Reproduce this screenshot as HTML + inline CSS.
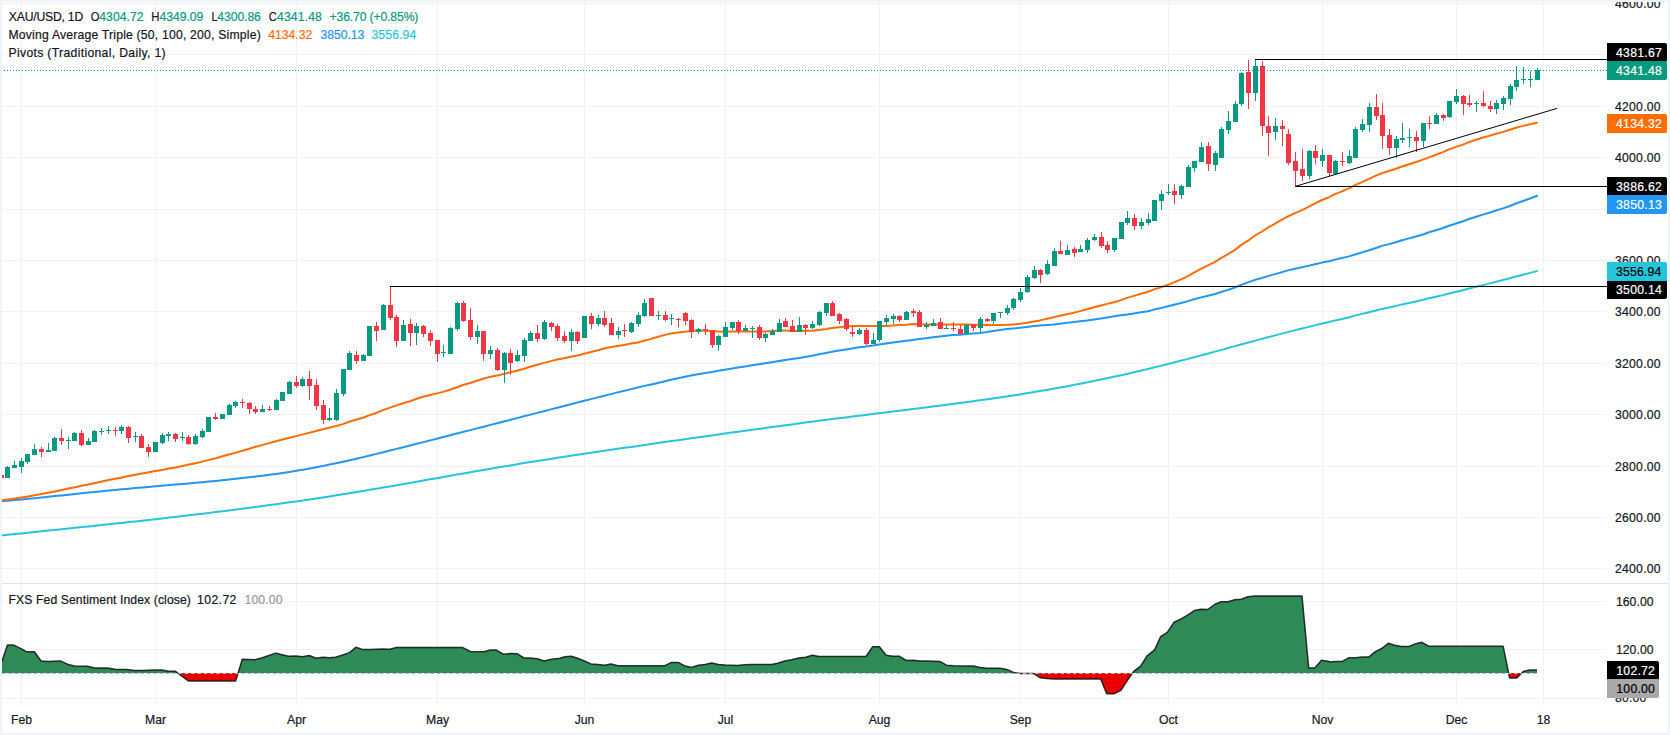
<!DOCTYPE html>
<html lang="en"><head><meta charset="utf-8"><title>XAU/USD 1D chart</title>
<style>html,body{margin:0;padding:0;background:#fff;}body{width:1670px;height:735px;overflow:hidden;}svg{display:block;font-family:"Liberation Sans",Arial,sans-serif;}.t{font-size:12.2px;fill:#131722;stroke:#131722;stroke-width:0.2px;}.w{fill:#fff;}</style></head><body>
<svg width="1670" height="735" viewBox="0 0 1670 735">
<rect x="0" y="0" width="1670" height="735" fill="#fff"/>
<g fill="#F2F2F3" shape-rendering="crispEdges">
<rect x="21" y="2" width="1" height="703"/>
<rect x="155" y="2" width="1" height="703"/>
<rect x="296" y="2" width="1" height="703"/>
<rect x="437" y="2" width="1" height="703"/>
<rect x="584" y="2" width="1" height="703"/>
<rect x="725" y="2" width="1" height="703"/>
<rect x="879" y="2" width="1" height="703"/>
<rect x="1020" y="2" width="1" height="703"/>
<rect x="1168" y="2" width="1" height="703"/>
<rect x="1322" y="2" width="1" height="703"/>
<rect x="1456" y="2" width="1" height="703"/>
<rect x="1543" y="2" width="1" height="703"/>
<rect x="2" y="568" width="1605" height="1"/>
<rect x="2" y="517" width="1605" height="1"/>
<rect x="2" y="466" width="1605" height="1"/>
<rect x="2" y="414" width="1605" height="1"/>
<rect x="2" y="363" width="1605" height="1"/>
<rect x="2" y="311" width="1605" height="1"/>
<rect x="2" y="260" width="1605" height="1"/>
<rect x="2" y="209" width="1605" height="1"/>
<rect x="2" y="157" width="1605" height="1"/>
<rect x="2" y="106" width="1605" height="1"/>
<rect x="2" y="54" width="1605" height="1"/>
<rect x="2" y="3" width="1605" height="1"/>
<rect x="2" y="601" width="1605" height="1"/>
<rect x="2" y="649" width="1605" height="1"/>
<rect x="2" y="698" width="1605" height="1"/>
</g>
<rect x="0" y="583" width="1670" height="1" fill="#E0E3EB" shape-rendering="crispEdges"/>
<line x1="1" y1="70.5" x2="1607" y2="70.5" stroke="#089981" stroke-width="1" stroke-dasharray="1 2" shape-rendering="crispEdges"/>
<polyline points="1.3,535.5 8.0,534.8 14.7,534.1 21.4,533.4 28.1,532.7 34.8,532.0 41.5,531.3 48.2,530.6 54.9,529.9 61.6,529.2 68.3,528.5 75.0,527.8 81.7,527.1 88.4,526.4 95.1,525.7 101.8,525.0 108.5,524.3 115.2,523.6 121.9,522.9 128.6,522.1 135.3,521.4 142.0,520.7 148.7,519.9 155.4,519.2 162.1,518.4 168.8,517.6 175.5,516.9 182.2,516.1 188.9,515.3 195.6,514.5 202.3,513.7 209.0,512.9 215.7,512.1 222.4,511.2 229.1,510.4 235.8,509.6 242.5,508.7 249.2,507.8 255.9,506.9 262.6,506.0 269.3,505.1 276.0,504.2 282.7,503.3 289.4,502.3 296.1,501.4 302.8,500.4 309.5,499.4 316.2,498.4 322.9,497.4 329.6,496.4 336.3,495.3 343.0,494.2 349.7,493.2 356.4,492.1 363.1,491.0 369.8,489.8 376.5,488.7 383.2,487.6 389.9,486.4 396.6,485.2 403.3,484.1 410.0,482.9 416.7,481.7 423.4,480.5 430.1,479.3 436.8,478.2 443.5,477.0 450.2,475.8 456.9,474.6 463.6,473.4 470.3,472.2 477.0,471.1 483.7,469.9 490.4,468.8 497.1,467.6 503.8,466.5 510.5,465.4 517.2,464.2 523.9,463.1 530.6,462.1 537.3,461.0 544.0,459.9 550.7,458.9 557.4,457.8 564.1,456.8 570.8,455.8 577.5,454.8 584.2,453.7 590.9,452.7 597.6,451.7 604.3,450.8 611.0,449.8 617.7,448.8 624.4,447.8 631.1,446.9 637.8,445.9 644.5,444.9 651.2,444.0 657.9,443.0 664.6,442.1 671.3,441.1 678.0,440.2 684.7,439.2 691.4,438.3 698.1,437.3 704.8,436.4 711.5,435.4 718.2,434.5 724.9,433.5 731.6,432.6 738.3,431.7 745.0,430.8 751.7,429.8 758.4,428.9 765.1,428.0 771.8,427.1 778.5,426.2 785.2,425.3 791.9,424.4 798.6,423.5 805.3,422.6 812.0,421.7 818.7,420.8 825.4,419.9 832.1,419.1 838.8,418.2 845.5,417.4 852.2,416.5 858.9,415.7 865.6,414.9 872.3,414.0 879.0,413.2 885.7,412.4 892.4,411.6 899.1,410.7 905.8,409.9 912.5,409.1 919.2,408.2 925.9,407.4 932.6,406.6 939.3,405.7 946.0,404.8 952.7,404.0 959.4,403.1 966.1,402.2 972.8,401.3 979.5,400.3 986.2,399.4 992.9,398.4 999.6,397.5 1006.3,396.5 1013.0,395.4 1019.7,394.4 1026.4,393.3 1033.1,392.2 1039.8,391.1 1046.5,390.0 1053.2,388.8 1059.9,387.6 1066.6,386.4 1073.3,385.1 1080.0,383.8 1086.7,382.5 1093.4,381.1 1100.1,379.7 1106.8,378.3 1113.5,376.8 1120.2,375.4 1126.9,373.9 1133.6,372.3 1140.3,370.7 1147.0,369.2 1153.7,367.5 1160.4,365.9 1167.1,364.2 1173.8,362.5 1180.5,360.8 1187.2,359.1 1193.9,357.3 1200.6,355.5 1207.3,353.7 1214.0,351.9 1220.7,350.1 1227.4,348.2 1234.1,346.4 1240.8,344.5 1247.5,342.7 1254.2,340.9 1260.9,339.1 1267.6,337.3 1274.3,335.6 1281.0,333.9 1287.7,332.1 1294.4,330.4 1301.1,328.8 1307.8,327.1 1314.5,325.4 1321.2,323.8 1327.9,322.2 1335.0,320.4 1342.0,318.9 1349.0,317.3 1355.0,315.6 1362.0,313.9 1369.0,312.2 1376.0,310.5 1382.0,308.9 1389.0,307.4 1396.0,305.9 1402.0,304.4 1409.0,302.9 1416.0,301.4 1423.0,299.8 1429.0,298.3 1436.0,296.7 1443.0,295.1 1449.0,293.5 1456.0,291.8 1463.0,290.2 1469.0,288.5 1476.0,286.8 1483.0,285.1 1490.0,283.4 1496.0,281.7 1503.0,280.0 1510.0,278.3 1516.0,276.5 1523.0,274.7 1530.0,272.9 1537.0,271.1" fill="none" stroke="#26C6DA" stroke-width="2" stroke-linejoin="round" stroke-linecap="round"/>
<polyline points="1.3,501.2 8.0,500.7 14.7,500.1 21.4,499.5 28.1,498.8 34.8,498.2 41.5,497.5 48.2,496.8 54.9,496.1 61.6,495.4 68.3,494.7 75.0,494.0 81.7,493.3 88.4,492.6 95.1,491.9 101.8,491.2 108.5,490.6 115.2,489.9 121.9,489.3 128.6,488.7 135.3,488.1 142.0,487.5 148.7,486.9 155.4,486.3 162.1,485.7 168.8,485.1 175.5,484.6 182.2,484.0 188.9,483.4 195.6,482.8 202.3,482.2 209.0,481.5 215.7,480.9 222.4,480.2 229.1,479.6 235.8,478.8 242.5,478.1 249.2,477.3 255.9,476.5 262.6,475.7 269.3,474.8 276.0,473.9 282.7,472.9 289.4,471.9 296.1,470.8 302.8,469.7 309.5,468.5 316.2,467.3 322.9,466.0 329.6,464.6 336.3,463.2 343.0,461.7 349.7,460.2 356.4,458.7 363.1,457.1 369.8,455.5 376.5,453.9 383.2,452.2 389.9,450.5 396.6,448.9 403.3,447.2 410.0,445.5 416.7,443.8 423.4,442.1 430.1,440.4 436.8,438.7 443.5,437.0 450.2,435.2 456.9,433.5 463.6,431.8 470.3,430.1 477.0,428.4 483.7,426.7 490.4,424.9 497.1,423.2 503.8,421.5 510.5,419.8 517.2,418.1 523.9,416.3 530.6,414.6 537.3,412.9 544.0,411.2 550.7,409.4 557.4,407.7 564.1,406.0 570.8,404.3 577.5,402.5 584.2,400.8 590.9,399.1 597.6,397.4 604.3,395.7 611.0,394.1 617.7,392.4 624.4,390.7 631.1,389.1 637.8,387.5 644.5,385.9 651.2,384.4 657.9,382.9 665.0,381.3 671.0,379.7 678.0,378.2 685.0,376.8 691.0,375.5 698.0,374.2 705.0,373.0 712.0,371.9 718.0,370.8 725.0,369.7 732.0,368.5 738.0,367.4 745.0,366.4 752.0,365.2 759.0,364.2 765.0,363.2 772.0,362.2 779.0,361.1 785.0,360.1 792.0,359.1 799.0,358.0 805.0,356.9 812.0,355.7 819.0,354.3 826.0,352.9 832.0,351.7 839.0,350.6 846.0,349.5 852.0,348.4 859.0,347.3 866.0,346.4 873.0,345.5 879.0,344.5 886.0,343.5 893.0,342.5 899.0,341.7 906.0,340.8 913.0,339.9 919.0,339.0 926.0,338.2 933.0,337.3 940.0,336.5 946.0,335.8 953.0,335.1 960.0,334.7 966.0,334.1 973.0,333.5 980.0,332.9 987.0,332.0 993.0,331.0 1000.0,329.9 1007.0,329.1 1013.0,328.4 1020.0,327.8 1027.0,326.9 1034.0,326.1 1040.0,325.6 1047.0,324.9 1054.0,324.4 1060.0,323.7 1067.0,322.8 1074.0,322.1 1080.0,321.2 1087.0,320.4 1094.0,319.4 1101.0,318.5 1107.0,317.4 1114.0,316.3 1121.0,315.2 1127.0,314.4 1134.0,313.4 1141.0,312.3 1148.0,311.2 1154.0,309.6 1161.0,308.1 1168.0,306.3 1174.0,304.7 1181.0,303.0 1188.0,301.1 1194.0,299.3 1201.0,297.4 1208.0,295.7 1215.0,294.0 1221.0,292.0 1228.0,289.9 1235.0,287.5 1241.0,284.9 1248.0,282.4 1255.0,279.9 1262.0,278.0 1268.0,276.1 1275.0,274.1 1282.0,272.1 1288.0,270.4 1295.0,268.8 1302.0,267.3 1309.0,265.6 1315.0,264.2 1322.0,262.6 1329.0,261.2 1335.0,259.6 1342.0,258.0 1349.0,256.4 1355.0,254.5 1362.0,252.4 1369.0,250.2 1376.0,248.0 1382.0,245.9 1389.0,244.1 1396.0,242.2 1402.0,240.3 1409.0,238.4 1416.0,236.5 1423.0,234.5 1429.0,232.3 1436.0,230.2 1443.0,228.0 1449.0,225.8 1456.0,223.5 1463.0,221.2 1469.0,219.0 1476.0,216.8 1483.0,214.6 1490.0,212.5 1496.0,210.5 1503.0,208.4 1510.0,206.0 1516.0,203.5 1523.0,201.0 1530.0,198.5 1537.0,195.8" fill="none" stroke="#2196F3" stroke-width="2" stroke-linejoin="round" stroke-linecap="round"/>
<polyline points="1.3,500.4 8.0,499.5 14.7,498.5 21.4,497.5 28.1,496.4 34.8,495.2 41.5,494.0 48.2,492.7 54.9,491.4 61.6,490.0 68.3,488.6 75.0,487.2 81.7,485.8 88.4,484.4 95.1,482.9 101.8,481.5 108.5,480.1 115.2,478.7 121.9,477.4 128.6,476.0 135.3,474.8 142.0,473.5 148.7,472.3 155.4,471.1 162.1,469.9 168.8,468.6 175.5,467.4 182.2,466.0 188.9,464.6 195.6,463.2 202.3,461.6 209.0,459.9 215.7,458.2 222.4,456.3 229.1,454.5 235.8,452.6 242.5,450.7 249.2,448.8 255.9,446.8 262.6,444.9 269.3,443.1 276.0,441.3 282.7,439.5 289.4,437.8 296.1,436.1 302.8,434.4 309.5,432.7 316.2,431.0 322.9,429.3 329.0,427.7 336.0,426.0 343.0,424.1 349.0,421.8 356.0,419.8 363.0,417.8 369.0,415.4 376.0,413.0 383.0,410.1 390.0,407.6 396.0,405.6 403.0,403.3 410.0,401.3 416.0,399.0 423.0,396.8 430.0,395.0 437.0,393.4 443.0,391.9 450.0,389.8 457.0,387.3 463.0,385.0 470.0,383.0 477.0,380.7 483.0,378.7 490.0,376.9 497.0,375.6 504.0,373.9 510.0,372.4 517.0,370.8 524.0,368.7 530.0,366.7 537.0,364.8 544.0,362.9 551.0,361.1 557.0,359.5 564.0,358.2 571.0,356.8 577.0,355.6 584.0,353.7 591.0,352.0 598.0,350.2 604.0,348.5 611.0,347.1 618.0,345.9 624.0,344.9 631.0,343.6 638.0,342.4 644.0,340.7 651.0,338.9 658.0,336.8 665.0,334.9 671.0,333.4 678.0,332.4 685.0,331.7 691.0,331.1 698.0,330.6 705.0,330.7 712.0,330.9 718.0,331.6 725.0,331.8 732.0,331.4 738.0,331.5 745.0,331.4 752.0,331.5 759.0,331.5 765.0,331.4 772.0,331.0 779.0,330.4 785.0,330.4 792.0,330.9 799.0,331.0 805.0,330.8 812.0,330.7 819.0,329.9 826.0,328.9 832.0,327.9 839.0,327.2 846.0,326.5 852.0,326.1 859.0,325.9 866.0,326.1 873.0,326.1 879.0,326.1 886.0,325.9 893.0,325.5 899.0,325.1 906.0,324.7 913.0,324.1 919.0,324.3 926.0,324.4 933.0,324.5 940.0,324.6 946.0,324.4 953.0,324.4 960.0,324.4 966.0,324.5 973.0,324.7 980.0,325.0 987.0,325.1 993.0,325.1 1000.0,325.0 1007.0,324.8 1013.0,324.4 1020.0,323.8 1027.0,322.7 1034.0,321.5 1040.0,320.4 1047.0,318.8 1054.0,317.1 1060.0,315.7 1067.0,314.2 1074.0,312.7 1080.0,311.1 1087.0,309.3 1094.0,307.3 1101.0,305.5 1107.0,303.9 1114.0,302.2 1121.0,300.1 1127.0,297.9 1134.0,295.9 1141.0,293.8 1148.0,291.7 1154.0,289.4 1161.0,287.2 1168.0,284.8 1174.0,282.3 1181.0,279.4 1188.0,276.1 1194.0,272.7 1201.0,268.8 1208.0,265.3 1215.0,261.9 1221.0,258.1 1228.0,254.2 1235.0,249.9 1241.0,245.1 1248.0,240.7 1255.0,235.5 1262.0,231.5 1268.0,227.7 1275.0,223.7 1282.0,219.7 1288.0,216.4 1295.0,213.1 1302.0,210.1 1309.0,206.6 1315.0,203.3 1322.0,200.0 1329.0,197.2 1335.0,194.2 1342.0,191.3 1349.0,188.4 1355.0,185.1 1362.0,182.1 1369.0,178.8 1376.0,175.6 1382.0,173.1 1389.0,171.0 1396.0,168.7 1402.0,166.5 1409.0,164.2 1416.0,162.0 1423.0,159.6 1429.0,157.4 1436.0,154.8 1443.0,152.1 1449.0,149.4 1456.0,146.9 1463.0,144.6 1469.0,142.1 1476.0,139.8 1483.0,137.5 1490.0,135.6 1496.0,133.8 1503.0,131.9 1510.0,129.8 1516.0,127.7 1523.0,125.9 1530.0,124.3 1537.0,122.7" fill="none" stroke="#FF6D00" stroke-width="2" stroke-linejoin="round" stroke-linecap="round"/>
<g shape-rendering="crispEdges">
<g fill="#089981">
<rect x="7" y="466" width="1" height="12"/>
<rect x="5" y="467" width="5" height="11"/>
<rect x="14" y="461" width="1" height="7"/>
<rect x="12" y="465" width="5" height="3"/>
<rect x="21" y="458" width="1" height="15"/>
<rect x="19" y="461" width="5" height="6"/>
<rect x="27" y="454" width="1" height="10"/>
<rect x="25" y="454" width="5" height="8"/>
<rect x="34" y="444" width="1" height="11"/>
<rect x="32" y="449" width="5" height="6"/>
<rect x="48" y="443" width="1" height="9"/>
<rect x="46" y="450" width="5" height="2"/>
<rect x="54" y="437" width="1" height="14"/>
<rect x="52" y="438" width="5" height="13"/>
<rect x="68" y="437" width="1" height="12"/>
<rect x="66" y="440" width="5" height="1"/>
<rect x="74" y="432" width="1" height="9"/>
<rect x="72" y="433" width="5" height="8"/>
<rect x="88" y="438" width="1" height="7"/>
<rect x="86" y="441" width="5" height="4"/>
<rect x="94" y="430" width="1" height="12"/>
<rect x="92" y="431" width="5" height="11"/>
<rect x="101" y="428" width="1" height="7"/>
<rect x="99" y="431" width="5" height="1"/>
<rect x="108" y="426" width="1" height="8"/>
<rect x="106" y="430" width="5" height="1"/>
<rect x="121" y="425" width="1" height="9"/>
<rect x="119" y="427" width="5" height="4"/>
<rect x="135" y="432" width="1" height="10"/>
<rect x="133" y="436" width="5" height="1"/>
<rect x="153" y="442" width="5" height="10"/>
<rect x="162" y="433" width="1" height="11"/>
<rect x="160" y="435" width="5" height="8"/>
<rect x="168" y="432" width="1" height="9"/>
<rect x="166" y="434" width="5" height="2"/>
<rect x="182" y="432" width="1" height="9"/>
<rect x="180" y="437" width="5" height="1"/>
<rect x="195" y="434" width="1" height="11"/>
<rect x="193" y="436" width="5" height="8"/>
<rect x="202" y="429" width="1" height="9"/>
<rect x="200" y="431" width="5" height="6"/>
<rect x="206" y="417" width="5" height="15"/>
<rect x="220" y="414" width="5" height="5"/>
<rect x="229" y="404" width="1" height="11"/>
<rect x="227" y="405" width="5" height="10"/>
<rect x="235" y="401" width="1" height="7"/>
<rect x="233" y="402" width="5" height="4"/>
<rect x="262" y="405" width="1" height="7"/>
<rect x="260" y="409" width="5" height="3"/>
<rect x="276" y="399" width="1" height="11"/>
<rect x="274" y="400" width="5" height="10"/>
<rect x="280" y="392" width="5" height="9"/>
<rect x="289" y="381" width="1" height="13"/>
<rect x="287" y="382" width="5" height="12"/>
<rect x="302" y="377" width="1" height="10"/>
<rect x="300" y="379" width="5" height="7"/>
<rect x="329" y="408" width="1" height="13"/>
<rect x="327" y="418" width="5" height="2"/>
<rect x="336" y="389" width="1" height="32"/>
<rect x="334" y="393" width="5" height="27"/>
<rect x="343" y="369" width="1" height="27"/>
<rect x="341" y="369" width="5" height="25"/>
<rect x="349" y="351" width="1" height="19"/>
<rect x="347" y="353" width="5" height="17"/>
<rect x="363" y="354" width="1" height="7"/>
<rect x="361" y="355" width="5" height="6"/>
<rect x="367" y="326" width="5" height="30"/>
<rect x="383" y="304" width="1" height="26"/>
<rect x="381" y="305" width="5" height="25"/>
<rect x="403" y="320" width="1" height="21"/>
<rect x="401" y="325" width="5" height="16"/>
<rect x="416" y="323" width="1" height="22"/>
<rect x="414" y="326" width="5" height="7"/>
<rect x="443" y="345" width="1" height="12"/>
<rect x="441" y="352" width="5" height="1"/>
<rect x="450" y="327" width="1" height="27"/>
<rect x="448" y="328" width="5" height="26"/>
<rect x="457" y="302" width="1" height="29"/>
<rect x="455" y="303" width="5" height="26"/>
<rect x="477" y="325" width="1" height="19"/>
<rect x="475" y="331" width="5" height="6"/>
<rect x="490" y="346" width="1" height="13"/>
<rect x="488" y="350" width="5" height="4"/>
<rect x="504" y="352" width="1" height="31"/>
<rect x="502" y="353" width="5" height="17"/>
<rect x="517" y="350" width="1" height="12"/>
<rect x="515" y="355" width="5" height="6"/>
<rect x="524" y="338" width="1" height="24"/>
<rect x="522" y="340" width="5" height="16"/>
<rect x="530" y="331" width="1" height="10"/>
<rect x="528" y="333" width="5" height="8"/>
<rect x="544" y="320" width="1" height="20"/>
<rect x="542" y="322" width="5" height="17"/>
<rect x="571" y="329" width="1" height="22"/>
<rect x="569" y="332" width="5" height="9"/>
<rect x="582" y="316" width="5" height="22"/>
<rect x="598" y="315" width="1" height="11"/>
<rect x="596" y="318" width="5" height="6"/>
<rect x="618" y="327" width="1" height="12"/>
<rect x="616" y="331" width="5" height="4"/>
<rect x="631" y="322" width="1" height="11"/>
<rect x="629" y="323" width="5" height="9"/>
<rect x="638" y="312" width="1" height="15"/>
<rect x="636" y="315" width="5" height="9"/>
<rect x="644" y="299" width="1" height="18"/>
<rect x="642" y="303" width="5" height="13"/>
<rect x="658" y="311" width="1" height="9"/>
<rect x="656" y="315" width="5" height="1"/>
<rect x="671" y="314" width="1" height="11"/>
<rect x="669" y="318" width="5" height="1"/>
<rect x="698" y="328" width="1" height="6"/>
<rect x="696" y="329" width="5" height="3"/>
<rect x="718" y="335" width="1" height="16"/>
<rect x="716" y="336" width="5" height="9"/>
<rect x="725" y="322" width="1" height="15"/>
<rect x="723" y="327" width="5" height="10"/>
<rect x="732" y="322" width="1" height="8"/>
<rect x="730" y="322" width="5" height="6"/>
<rect x="745" y="325" width="1" height="6"/>
<rect x="743" y="328" width="5" height="3"/>
<rect x="752" y="326" width="1" height="12"/>
<rect x="750" y="328" width="5" height="1"/>
<rect x="765" y="333" width="1" height="9"/>
<rect x="763" y="334" width="5" height="4"/>
<rect x="772" y="329" width="1" height="6"/>
<rect x="770" y="331" width="5" height="4"/>
<rect x="779" y="319" width="1" height="13"/>
<rect x="777" y="323" width="5" height="9"/>
<rect x="799" y="317" width="1" height="15"/>
<rect x="797" y="325" width="5" height="7"/>
<rect x="812" y="321" width="1" height="8"/>
<rect x="810" y="324" width="5" height="4"/>
<rect x="819" y="311" width="1" height="15"/>
<rect x="817" y="312" width="5" height="13"/>
<rect x="826" y="303" width="1" height="13"/>
<rect x="824" y="303" width="5" height="10"/>
<rect x="859" y="328" width="1" height="7"/>
<rect x="857" y="330" width="5" height="4"/>
<rect x="873" y="333" width="1" height="11"/>
<rect x="871" y="340" width="5" height="4"/>
<rect x="879" y="321" width="1" height="21"/>
<rect x="877" y="321" width="5" height="19"/>
<rect x="886" y="315" width="1" height="10"/>
<rect x="884" y="318" width="5" height="4"/>
<rect x="893" y="314" width="1" height="10"/>
<rect x="891" y="316" width="5" height="3"/>
<rect x="906" y="311" width="1" height="9"/>
<rect x="904" y="312" width="5" height="8"/>
<rect x="926" y="322" width="1" height="7"/>
<rect x="924" y="325" width="5" height="2"/>
<rect x="933" y="319" width="1" height="7"/>
<rect x="931" y="323" width="5" height="3"/>
<rect x="946" y="325" width="1" height="4"/>
<rect x="944" y="328" width="5" height="1"/>
<rect x="966" y="324" width="1" height="10"/>
<rect x="964" y="325" width="5" height="9"/>
<rect x="980" y="317" width="1" height="15"/>
<rect x="978" y="319" width="5" height="9"/>
<rect x="993" y="313" width="1" height="11"/>
<rect x="991" y="313" width="5" height="8"/>
<rect x="1000" y="312" width="1" height="6"/>
<rect x="998" y="312" width="5" height="1"/>
<rect x="1007" y="305" width="1" height="10"/>
<rect x="1005" y="308" width="5" height="5"/>
<rect x="1013" y="298" width="1" height="12"/>
<rect x="1011" y="299" width="5" height="9"/>
<rect x="1020" y="288" width="1" height="14"/>
<rect x="1018" y="292" width="5" height="8"/>
<rect x="1027" y="275" width="1" height="18"/>
<rect x="1025" y="277" width="5" height="15"/>
<rect x="1034" y="266" width="1" height="13"/>
<rect x="1032" y="270" width="5" height="8"/>
<rect x="1047" y="260" width="1" height="15"/>
<rect x="1045" y="264" width="5" height="10"/>
<rect x="1054" y="248" width="1" height="18"/>
<rect x="1052" y="251" width="5" height="15"/>
<rect x="1067" y="245" width="1" height="10"/>
<rect x="1065" y="250" width="5" height="5"/>
<rect x="1080" y="245" width="1" height="7"/>
<rect x="1078" y="249" width="5" height="3"/>
<rect x="1087" y="238" width="1" height="15"/>
<rect x="1085" y="240" width="5" height="10"/>
<rect x="1094" y="234" width="1" height="7"/>
<rect x="1092" y="237" width="5" height="3"/>
<rect x="1114" y="238" width="1" height="14"/>
<rect x="1112" y="238" width="5" height="12"/>
<rect x="1119" y="222" width="5" height="17"/>
<rect x="1127" y="211" width="1" height="14"/>
<rect x="1125" y="218" width="5" height="5"/>
<rect x="1141" y="218" width="1" height="11"/>
<rect x="1139" y="222" width="5" height="4"/>
<rect x="1148" y="213" width="1" height="12"/>
<rect x="1146" y="219" width="5" height="4"/>
<rect x="1152" y="200" width="5" height="21"/>
<rect x="1161" y="190" width="1" height="20"/>
<rect x="1159" y="194" width="5" height="7"/>
<rect x="1168" y="184" width="1" height="11"/>
<rect x="1166" y="192" width="5" height="1"/>
<rect x="1181" y="185" width="1" height="14"/>
<rect x="1179" y="186" width="5" height="9"/>
<rect x="1188" y="165" width="1" height="22"/>
<rect x="1186" y="167" width="5" height="20"/>
<rect x="1194" y="161" width="1" height="11"/>
<rect x="1192" y="161" width="5" height="7"/>
<rect x="1201" y="142" width="1" height="20"/>
<rect x="1199" y="147" width="5" height="15"/>
<rect x="1215" y="151" width="1" height="20"/>
<rect x="1213" y="153" width="5" height="12"/>
<rect x="1221" y="127" width="1" height="31"/>
<rect x="1219" y="129" width="5" height="29"/>
<rect x="1228" y="111" width="1" height="23"/>
<rect x="1226" y="121" width="5" height="9"/>
<rect x="1235" y="101" width="1" height="21"/>
<rect x="1233" y="104" width="5" height="18"/>
<rect x="1241" y="72" width="1" height="34"/>
<rect x="1239" y="73" width="5" height="31"/>
<rect x="1255" y="60" width="1" height="41"/>
<rect x="1253" y="66" width="5" height="27"/>
<rect x="1275" y="118" width="1" height="22"/>
<rect x="1273" y="126" width="5" height="6"/>
<rect x="1309" y="150" width="1" height="29"/>
<rect x="1307" y="151" width="5" height="25"/>
<rect x="1322" y="149" width="1" height="18"/>
<rect x="1320" y="155" width="5" height="6"/>
<rect x="1335" y="160" width="1" height="14"/>
<rect x="1333" y="161" width="5" height="13"/>
<rect x="1349" y="150" width="1" height="14"/>
<rect x="1347" y="156" width="5" height="7"/>
<rect x="1355" y="127" width="1" height="31"/>
<rect x="1353" y="129" width="5" height="29"/>
<rect x="1362" y="119" width="1" height="13"/>
<rect x="1360" y="124" width="5" height="6"/>
<rect x="1369" y="103" width="1" height="29"/>
<rect x="1367" y="107" width="5" height="18"/>
<rect x="1396" y="136" width="1" height="22"/>
<rect x="1394" y="139" width="5" height="9"/>
<rect x="1402" y="123" width="1" height="20"/>
<rect x="1400" y="138" width="5" height="2"/>
<rect x="1409" y="129" width="1" height="18"/>
<rect x="1407" y="137" width="5" height="1"/>
<rect x="1423" y="123" width="1" height="24"/>
<rect x="1421" y="123" width="5" height="18"/>
<rect x="1436" y="113" width="1" height="11"/>
<rect x="1434" y="115" width="5" height="9"/>
<rect x="1449" y="101" width="1" height="17"/>
<rect x="1447" y="101" width="5" height="16"/>
<rect x="1456" y="89" width="1" height="15"/>
<rect x="1454" y="96" width="5" height="6"/>
<rect x="1476" y="101" width="1" height="11"/>
<rect x="1474" y="103" width="5" height="1"/>
<rect x="1496" y="100" width="1" height="14"/>
<rect x="1494" y="103" width="5" height="6"/>
<rect x="1503" y="96" width="1" height="14"/>
<rect x="1501" y="98" width="5" height="6"/>
<rect x="1510" y="84" width="1" height="21"/>
<rect x="1508" y="86" width="5" height="13"/>
<rect x="1516" y="66" width="1" height="25"/>
<rect x="1514" y="80" width="5" height="7"/>
<rect x="1523" y="67" width="1" height="17"/>
<rect x="1521" y="79" width="5" height="1"/>
<rect x="1530" y="71" width="1" height="16"/>
<rect x="1528" y="79" width="5" height="1"/>
<rect x="1537" y="68" width="1" height="12"/>
<rect x="1535" y="70" width="5" height="10"/>
</g>
<g fill="#F23645">
<rect x="1" y="474" width="1" height="7"/>
<rect x="-1" y="475" width="5" height="3"/>
<rect x="41" y="447" width="1" height="10"/>
<rect x="39" y="449" width="5" height="3"/>
<rect x="61" y="429" width="1" height="16"/>
<rect x="59" y="438" width="5" height="3"/>
<rect x="81" y="430" width="1" height="16"/>
<rect x="79" y="433" width="5" height="12"/>
<rect x="115" y="427" width="1" height="9"/>
<rect x="113" y="430" width="5" height="1"/>
<rect x="128" y="426" width="1" height="17"/>
<rect x="126" y="427" width="5" height="11"/>
<rect x="141" y="434" width="1" height="14"/>
<rect x="139" y="436" width="5" height="12"/>
<rect x="148" y="444" width="1" height="13"/>
<rect x="146" y="447" width="5" height="5"/>
<rect x="175" y="433" width="1" height="9"/>
<rect x="173" y="434" width="5" height="5"/>
<rect x="188" y="435" width="1" height="10"/>
<rect x="186" y="437" width="5" height="7"/>
<rect x="215" y="413" width="1" height="7"/>
<rect x="213" y="417" width="5" height="2"/>
<rect x="242" y="399" width="1" height="9"/>
<rect x="240" y="402" width="5" height="1"/>
<rect x="249" y="402" width="1" height="12"/>
<rect x="247" y="403" width="5" height="6"/>
<rect x="255" y="406" width="1" height="8"/>
<rect x="253" y="409" width="5" height="3"/>
<rect x="269" y="406" width="1" height="5"/>
<rect x="267" y="409" width="5" height="1"/>
<rect x="296" y="376" width="1" height="12"/>
<rect x="294" y="382" width="5" height="4"/>
<rect x="309" y="371" width="1" height="29"/>
<rect x="307" y="379" width="5" height="7"/>
<rect x="316" y="379" width="1" height="31"/>
<rect x="314" y="385" width="5" height="21"/>
<rect x="323" y="400" width="1" height="24"/>
<rect x="321" y="405" width="5" height="15"/>
<rect x="356" y="351" width="1" height="13"/>
<rect x="354" y="355" width="5" height="6"/>
<rect x="376" y="322" width="1" height="19"/>
<rect x="374" y="326" width="5" height="5"/>
<rect x="390" y="287" width="1" height="33"/>
<rect x="388" y="305" width="5" height="13"/>
<rect x="396" y="315" width="1" height="32"/>
<rect x="394" y="317" width="5" height="24"/>
<rect x="410" y="319" width="1" height="27"/>
<rect x="408" y="324" width="5" height="9"/>
<rect x="423" y="325" width="1" height="12"/>
<rect x="421" y="326" width="5" height="8"/>
<rect x="430" y="330" width="1" height="16"/>
<rect x="428" y="333" width="5" height="8"/>
<rect x="437" y="340" width="1" height="22"/>
<rect x="435" y="340" width="5" height="14"/>
<rect x="463" y="301" width="1" height="21"/>
<rect x="461" y="303" width="5" height="18"/>
<rect x="470" y="308" width="1" height="32"/>
<rect x="468" y="320" width="5" height="17"/>
<rect x="483" y="331" width="1" height="30"/>
<rect x="481" y="331" width="5" height="23"/>
<rect x="497" y="348" width="1" height="23"/>
<rect x="495" y="350" width="5" height="20"/>
<rect x="510" y="349" width="1" height="26"/>
<rect x="508" y="353" width="5" height="10"/>
<rect x="537" y="325" width="1" height="17"/>
<rect x="535" y="333" width="5" height="6"/>
<rect x="551" y="322" width="1" height="9"/>
<rect x="549" y="323" width="5" height="4"/>
<rect x="557" y="324" width="1" height="17"/>
<rect x="555" y="326" width="5" height="12"/>
<rect x="564" y="331" width="1" height="12"/>
<rect x="562" y="336" width="5" height="5"/>
<rect x="577" y="331" width="1" height="13"/>
<rect x="575" y="332" width="5" height="9"/>
<rect x="591" y="313" width="1" height="16"/>
<rect x="589" y="316" width="5" height="8"/>
<rect x="604" y="311" width="1" height="16"/>
<rect x="602" y="318" width="5" height="7"/>
<rect x="611" y="318" width="1" height="17"/>
<rect x="609" y="323" width="5" height="12"/>
<rect x="624" y="324" width="1" height="13"/>
<rect x="622" y="330" width="5" height="1"/>
<rect x="649" y="298" width="5" height="18"/>
<rect x="665" y="311" width="1" height="10"/>
<rect x="663" y="315" width="5" height="5"/>
<rect x="678" y="318" width="1" height="9"/>
<rect x="676" y="319" width="5" height="1"/>
<rect x="685" y="312" width="1" height="13"/>
<rect x="683" y="313" width="5" height="8"/>
<rect x="691" y="319" width="1" height="19"/>
<rect x="689" y="320" width="5" height="12"/>
<rect x="705" y="324" width="1" height="11"/>
<rect x="703" y="329" width="5" height="1"/>
<rect x="712" y="330" width="1" height="18"/>
<rect x="710" y="330" width="5" height="15"/>
<rect x="738" y="320" width="1" height="14"/>
<rect x="736" y="322" width="5" height="9"/>
<rect x="759" y="325" width="1" height="15"/>
<rect x="757" y="327" width="5" height="11"/>
<rect x="785" y="318" width="1" height="9"/>
<rect x="783" y="321" width="5" height="6"/>
<rect x="792" y="320" width="1" height="12"/>
<rect x="790" y="326" width="5" height="6"/>
<rect x="805" y="324" width="1" height="11"/>
<rect x="803" y="325" width="5" height="3"/>
<rect x="832" y="301" width="1" height="15"/>
<rect x="830" y="303" width="5" height="13"/>
<rect x="839" y="313" width="1" height="11"/>
<rect x="837" y="314" width="5" height="7"/>
<rect x="846" y="318" width="1" height="13"/>
<rect x="844" y="319" width="5" height="10"/>
<rect x="852" y="325" width="1" height="12"/>
<rect x="850" y="332" width="5" height="2"/>
<rect x="866" y="328" width="1" height="17"/>
<rect x="864" y="330" width="5" height="14"/>
<rect x="899" y="315" width="1" height="7"/>
<rect x="897" y="316" width="5" height="4"/>
<rect x="913" y="309" width="1" height="8"/>
<rect x="911" y="311" width="5" height="2"/>
<rect x="919" y="310" width="1" height="17"/>
<rect x="917" y="312" width="5" height="15"/>
<rect x="940" y="318" width="1" height="11"/>
<rect x="938" y="322" width="5" height="7"/>
<rect x="953" y="322" width="1" height="9"/>
<rect x="951" y="328" width="5" height="1"/>
<rect x="960" y="325" width="1" height="9"/>
<rect x="958" y="329" width="5" height="5"/>
<rect x="973" y="324" width="1" height="7"/>
<rect x="971" y="324" width="5" height="4"/>
<rect x="987" y="318" width="1" height="4"/>
<rect x="985" y="319" width="5" height="2"/>
<rect x="1040" y="269" width="1" height="14"/>
<rect x="1038" y="270" width="5" height="5"/>
<rect x="1060" y="241" width="1" height="13"/>
<rect x="1058" y="251" width="5" height="3"/>
<rect x="1074" y="247" width="1" height="10"/>
<rect x="1072" y="249" width="5" height="4"/>
<rect x="1101" y="232" width="1" height="16"/>
<rect x="1099" y="237" width="5" height="9"/>
<rect x="1107" y="241" width="1" height="12"/>
<rect x="1105" y="245" width="5" height="5"/>
<rect x="1134" y="214" width="1" height="16"/>
<rect x="1132" y="218" width="5" height="8"/>
<rect x="1174" y="184" width="1" height="20"/>
<rect x="1172" y="191" width="5" height="4"/>
<rect x="1208" y="142" width="1" height="29"/>
<rect x="1206" y="146" width="5" height="18"/>
<rect x="1248" y="60" width="1" height="49"/>
<rect x="1246" y="72" width="5" height="21"/>
<rect x="1262" y="61" width="1" height="75"/>
<rect x="1260" y="66" width="5" height="60"/>
<rect x="1268" y="116" width="1" height="40"/>
<rect x="1266" y="126" width="5" height="7"/>
<rect x="1282" y="120" width="1" height="26"/>
<rect x="1280" y="126" width="5" height="3"/>
<rect x="1288" y="129" width="1" height="36"/>
<rect x="1286" y="134" width="5" height="29"/>
<rect x="1295" y="152" width="1" height="34"/>
<rect x="1293" y="161" width="5" height="10"/>
<rect x="1302" y="149" width="1" height="32"/>
<rect x="1300" y="169" width="5" height="7"/>
<rect x="1315" y="145" width="1" height="19"/>
<rect x="1313" y="151" width="5" height="7"/>
<rect x="1329" y="155" width="1" height="21"/>
<rect x="1327" y="155" width="5" height="18"/>
<rect x="1342" y="152" width="1" height="14"/>
<rect x="1340" y="161" width="5" height="1"/>
<rect x="1376" y="94" width="1" height="26"/>
<rect x="1374" y="107" width="5" height="9"/>
<rect x="1382" y="103" width="1" height="46"/>
<rect x="1380" y="115" width="5" height="21"/>
<rect x="1389" y="129" width="1" height="26"/>
<rect x="1387" y="135" width="5" height="13"/>
<rect x="1416" y="131" width="1" height="21"/>
<rect x="1414" y="137" width="5" height="4"/>
<rect x="1429" y="116" width="1" height="13"/>
<rect x="1427" y="123" width="5" height="1"/>
<rect x="1443" y="114" width="1" height="7"/>
<rect x="1441" y="115" width="5" height="3"/>
<rect x="1463" y="95" width="1" height="20"/>
<rect x="1461" y="96" width="5" height="8"/>
<rect x="1469" y="95" width="1" height="12"/>
<rect x="1467" y="103" width="5" height="2"/>
<rect x="1483" y="91" width="1" height="16"/>
<rect x="1481" y="103" width="5" height="3"/>
<rect x="1490" y="101" width="1" height="11"/>
<rect x="1488" y="106" width="5" height="3"/>
</g>
</g>
<g stroke="#000" stroke-width="1" fill="none">
<line x1="390" y1="286.5" x2="1607" y2="286.5" shape-rendering="crispEdges"/>
<line x1="1255" y1="59.5" x2="1607" y2="59.5" shape-rendering="crispEdges"/>
<line x1="1295" y1="186.5" x2="1607" y2="186.5" shape-rendering="crispEdges"/>
<line x1="1295.5" y1="186.3" x2="1557.3" y2="108.3" stroke-width="1"/>
</g>
<path d="M1.7,661.9 L7.5,645.1 L13.7,645.1 L20.5,648.4 L26.8,651.8 L34.4,651.8 L41.1,661.0 L47.8,661.4 L60.4,660.9 L67.9,664.4 L74.6,666.0 L87.2,666.2 L94.7,668.1 L107.3,668.1 L114.9,669.2 L125.8,669.6 L135.0,670.6 L142.5,670.6 L155.1,669.9 L161.8,669.9 L168.5,671.2 L175.2,671.2 L177.6,673.0 L181.9,673.0 L188.6,673.0 L235.6,673.0 L238.1,673.0 L242.3,659.3 L254.9,659.8 L262.4,657.7 L275.8,653.1 L280.0,654.3 L288.4,656.3 L295.9,656.0 L302.6,656.8 L309.3,655.5 L316.0,658.2 L322.8,657.2 L329.5,657.7 L335.3,657.2 L342.0,655.2 L349.6,652.6 L355.8,647.3 L363.0,649.6 L370.5,649.6 L382.3,648.9 L389.8,649.3 L396.5,647.6 L462.8,647.6 L470.3,651.5 L483.7,651.8 L490.4,650.1 L496.3,650.1 L503.8,654.3 L510.5,653.5 L517.3,653.8 L524.0,658.0 L529.8,658.0 L537.4,658.8 L544.1,661.0 L551.6,659.3 L560.0,658.2 L565.0,656.8 L571.4,656.3 L577.6,658.2 L584.3,661.0 L591.0,663.9 L597.7,664.4 L604.4,665.2 L611.1,664.0 L617.8,665.7 L664.8,665.7 L671.5,662.4 L678.2,662.4 L684.9,666.0 L691.6,667.4 L698.3,665.2 L705.0,664.4 L711.7,663.0 L718.5,664.4 L725.2,664.9 L737.7,665.5 L744.4,664.7 L751.1,664.5 L771.3,664.5 L778.0,663.2 L784.7,661.0 L791.4,659.8 L798.9,658.0 L805.6,657.2 L812.3,655.2 L819.1,656.5 L839.8,656.5 L866.0,656.5 L872.7,646.8 L879.4,646.8 L886.1,655.2 L892.8,656.3 L899.5,656.3 L906.2,660.5 L912.9,660.2 L919.6,661.0 L926.4,661.0 L939.8,661.5 L946.5,665.2 L953.2,665.7 L973.3,666.0 L980.0,667.4 L986.7,668.2 L1000.1,668.2 L1006.8,669.4 L1013.5,672.4 L1016.8,673.0 L1020.2,673.0 L1033.7,673.0 L1040.4,673.0 L1047.1,673.0 L1053.8,673.0 L1100.7,673.0 L1106.7,673.0 L1114.2,673.0 L1120.9,673.0 L1127.7,673.0 L1132.2,673.0 L1132.6,673.0 L1134.4,670.8 L1140.4,666.3 L1147.1,655.8 L1154.6,649.9 L1160.6,636.7 L1167.3,632.3 L1174.1,622.2 L1181.6,618.7 L1188.3,614.7 L1194.3,610.6 L1201.0,609.2 L1207.7,609.5 L1214.5,604.5 L1221.2,601.7 L1227.9,601.7 L1234.7,599.7 L1241.4,599.3 L1248.1,596.7 L1254.9,596.0 L1302.0,596.0 L1308.7,668.1 L1315.0,667.8 L1321.5,660.3 L1328.9,661.5 L1330.0,662.1 L1335.7,661.4 L1342.2,661.4 L1348.7,657.8 L1355.2,657.7 L1362.3,656.9 L1368.8,657.1 L1375.3,651.6 L1381.7,648.5 L1388.2,643.3 L1394.7,645.2 L1401.1,646.6 L1408.3,646.6 L1414.8,644.1 L1422.0,642.3 L1429.2,646.3 L1503.2,646.3 L1508.6,673.0 L1509.6,673.0 L1516.8,673.0 L1521.8,673.0 L1523.3,671.5 L1529.8,669.9 L1537.0,669.9 L1537.0,673.0 L1.7,673.0 Z" fill="#2E8B57"/>
<path d="M1.7,673.0 L7.5,673.0 L13.7,673.0 L20.5,673.0 L26.8,673.0 L34.4,673.0 L41.1,673.0 L47.8,673.0 L60.4,673.0 L67.9,673.0 L74.6,673.0 L87.2,673.0 L94.7,673.0 L107.3,673.0 L114.9,673.0 L125.8,673.0 L135.0,673.0 L142.5,673.0 L155.1,673.0 L161.8,673.0 L168.5,673.0 L175.2,673.0 L177.6,673.0 L181.9,676.1 L188.6,681.1 L235.6,681.1 L238.1,673.0 L242.3,673.0 L254.9,673.0 L262.4,673.0 L275.8,673.0 L280.0,673.0 L288.4,673.0 L295.9,673.0 L302.6,673.0 L309.3,673.0 L316.0,673.0 L322.8,673.0 L329.5,673.0 L335.3,673.0 L342.0,673.0 L349.6,673.0 L355.8,673.0 L363.0,673.0 L370.5,673.0 L382.3,673.0 L389.8,673.0 L396.5,673.0 L462.8,673.0 L470.3,673.0 L483.7,673.0 L490.4,673.0 L496.3,673.0 L503.8,673.0 L510.5,673.0 L517.3,673.0 L524.0,673.0 L529.8,673.0 L537.4,673.0 L544.1,673.0 L551.6,673.0 L560.0,673.0 L565.0,673.0 L571.4,673.0 L577.6,673.0 L584.3,673.0 L591.0,673.0 L597.7,673.0 L604.4,673.0 L611.1,673.0 L617.8,673.0 L664.8,673.0 L671.5,673.0 L678.2,673.0 L684.9,673.0 L691.6,673.0 L698.3,673.0 L705.0,673.0 L711.7,673.0 L718.5,673.0 L725.2,673.0 L737.7,673.0 L744.4,673.0 L751.1,673.0 L771.3,673.0 L778.0,673.0 L784.7,673.0 L791.4,673.0 L798.9,673.0 L805.6,673.0 L812.3,673.0 L819.1,673.0 L839.8,673.0 L866.0,673.0 L872.7,673.0 L879.4,673.0 L886.1,673.0 L892.8,673.0 L899.5,673.0 L906.2,673.0 L912.9,673.0 L919.6,673.0 L926.4,673.0 L939.8,673.0 L946.5,673.0 L953.2,673.0 L973.3,673.0 L980.0,673.0 L986.7,673.0 L1000.1,673.0 L1006.8,673.0 L1013.5,673.0 L1016.8,673.0 L1020.2,673.6 L1033.7,673.6 L1040.4,677.8 L1047.1,678.6 L1053.8,679.0 L1100.7,679.0 L1106.7,693.7 L1114.2,693.7 L1120.9,690.3 L1127.7,679.8 L1132.2,673.5 L1132.6,673.0 L1134.4,673.0 L1140.4,673.0 L1147.1,673.0 L1154.6,673.0 L1160.6,673.0 L1167.3,673.0 L1174.1,673.0 L1181.6,673.0 L1188.3,673.0 L1194.3,673.0 L1201.0,673.0 L1207.7,673.0 L1214.5,673.0 L1221.2,673.0 L1227.9,673.0 L1234.7,673.0 L1241.4,673.0 L1248.1,673.0 L1254.9,673.0 L1302.0,673.0 L1308.7,673.0 L1315.0,673.0 L1321.5,673.0 L1328.9,673.0 L1330.0,673.0 L1335.7,673.0 L1342.2,673.0 L1348.7,673.0 L1355.2,673.0 L1362.3,673.0 L1368.8,673.0 L1375.3,673.0 L1381.7,673.0 L1388.2,673.0 L1394.7,673.0 L1401.1,673.0 L1408.3,673.0 L1414.8,673.0 L1422.0,673.0 L1429.2,673.0 L1503.2,673.0 L1508.6,673.0 L1509.6,677.9 L1516.8,677.9 L1521.8,673.0 L1523.3,673.0 L1529.8,673.0 L1537.0,673.0 L1537.0,673.0 L1.7,673.0 Z" fill="#E60000"/>
<path d="M1.7,661.9 L7.5,645.1 L13.7,645.1 L20.5,648.4 L26.8,651.8 L34.4,651.8 L41.1,661.0 L47.8,661.4 L60.4,660.9 L67.9,664.4 L74.6,666.0 L87.2,666.2 L94.7,668.1 L107.3,668.1 L114.9,669.2 L125.8,669.6 L135.0,670.6 L142.5,670.6 L155.1,669.9 L161.8,669.9 L168.5,671.2 L175.2,671.2 L181.9,676.1 L188.6,681.1 L235.6,681.1 L242.3,659.3 L254.9,659.8 L262.4,657.7 L275.8,653.1 L280.0,654.3 L288.4,656.3 L295.9,656.0 L302.6,656.8 L309.3,655.5 L316.0,658.2 L322.8,657.2 L329.5,657.7 L335.3,657.2 L342.0,655.2 L349.6,652.6 L355.8,647.3 L363.0,649.6 L370.5,649.6 L382.3,648.9 L389.8,649.3 L396.5,647.6 L462.8,647.6 L470.3,651.5 L483.7,651.8 L490.4,650.1 L496.3,650.1 L503.8,654.3 L510.5,653.5 L517.3,653.8 L524.0,658.0 L529.8,658.0 L537.4,658.8 L544.1,661.0 L551.6,659.3 L560.0,658.2 L565.0,656.8 L571.4,656.3 L577.6,658.2 L584.3,661.0 L591.0,663.9 L597.7,664.4 L604.4,665.2 L611.1,664.0 L617.8,665.7 L664.8,665.7 L671.5,662.4 L678.2,662.4 L684.9,666.0 L691.6,667.4 L698.3,665.2 L705.0,664.4 L711.7,663.0 L718.5,664.4 L725.2,664.9 L737.7,665.5 L744.4,664.7 L751.1,664.5 L771.3,664.5 L778.0,663.2 L784.7,661.0 L791.4,659.8 L798.9,658.0 L805.6,657.2 L812.3,655.2 L819.1,656.5 L839.8,656.5 L866.0,656.5 L872.7,646.8 L879.4,646.8 L886.1,655.2 L892.8,656.3 L899.5,656.3 L906.2,660.5 L912.9,660.2 L919.6,661.0 L926.4,661.0 L939.8,661.5 L946.5,665.2 L953.2,665.7 L973.3,666.0 L980.0,667.4 L986.7,668.2 L1000.1,668.2 L1006.8,669.4 L1013.5,672.4 L1020.2,673.6 L1033.7,673.6 L1040.4,677.8 L1047.1,678.6 L1053.8,679.0 L1100.7,679.0 L1106.7,693.7 L1114.2,693.7 L1120.9,690.3 L1127.7,679.8 L1132.2,673.5 L1134.4,670.8 L1140.4,666.3 L1147.1,655.8 L1154.6,649.9 L1160.6,636.7 L1167.3,632.3 L1174.1,622.2 L1181.6,618.7 L1188.3,614.7 L1194.3,610.6 L1201.0,609.2 L1207.7,609.5 L1214.5,604.5 L1221.2,601.7 L1227.9,601.7 L1234.7,599.7 L1241.4,599.3 L1248.1,596.7 L1254.9,596.0 L1302.0,596.0 L1308.7,668.1 L1315.0,667.8 L1321.5,660.3 L1328.9,661.5 L1330.0,662.1 L1335.7,661.4 L1342.2,661.4 L1348.7,657.8 L1355.2,657.7 L1362.3,656.9 L1368.8,657.1 L1375.3,651.6 L1381.7,648.5 L1388.2,643.3 L1394.7,645.2 L1401.1,646.6 L1408.3,646.6 L1414.8,644.1 L1422.0,642.3 L1429.2,646.3 L1503.2,646.3 L1509.6,677.9 L1516.8,677.9 L1523.3,671.5 L1529.8,669.9 L1537.0,669.9" fill="none" stroke="#111" stroke-opacity="0.85" stroke-width="1.5" stroke-linejoin="round"/>
<line x1="2" y1="673.5" x2="1537.0" y2="673.5" stroke="#B4B4B4" stroke-width="1" stroke-dasharray="3.6 2.7"/>
<text x="8.80" y="20.9" class="t" textLength="74.40" lengthAdjust="spacing">XAU/USD, 1D</text>
<text x="90.70" y="20.9" class="t" textLength="8.70" lengthAdjust="spacingAndGlyphs">O</text>
<text x="99.30" y="20.9" class="t" textLength="44.20" lengthAdjust="spacing" style="fill:#089981;stroke:#089981">4304.72</text>
<text x="151.30" y="20.9" class="t" textLength="8.20" lengthAdjust="spacingAndGlyphs">H</text>
<text x="159.60" y="20.9" class="t" textLength="43.60" lengthAdjust="spacing" style="fill:#089981;stroke:#089981">4349.09</text>
<text x="211.60" y="20.9" class="t" textLength="6.00" lengthAdjust="spacingAndGlyphs">L</text>
<text x="217.30" y="20.9" class="t" textLength="43.60" lengthAdjust="spacing" style="fill:#089981;stroke:#089981">4300.86</text>
<text x="268.80" y="20.9" class="t" textLength="8.00" lengthAdjust="spacingAndGlyphs">C</text>
<text x="277.00" y="20.9" class="t" textLength="44.90" lengthAdjust="spacing" style="fill:#089981;stroke:#089981">4341.48</text>
<text x="329.60" y="20.9" class="t" textLength="88.80" lengthAdjust="spacing" style="fill:#089981;stroke:#089981">+36.70 (+0.85%)</text>
<text x="8.50" y="38.7" class="t" textLength="252.20" lengthAdjust="spacing">Moving Average Triple (50, 100, 200, Simple)</text>
<text x="268.30" y="38.7" class="t" textLength="43.90" lengthAdjust="spacing" style="fill:#FF6D00;stroke:#FF6D00">4134.32</text>
<text x="320.60" y="38.7" class="t" textLength="43.60" lengthAdjust="spacing" style="fill:#2196F3;stroke:#2196F3">3850.13</text>
<text x="371.40" y="38.7" class="t" textLength="44.90" lengthAdjust="spacing" style="fill:#26C6DA;stroke:#26C6DA">3556.94</text>
<text x="8.50" y="56.6" class="t" textLength="157.10" lengthAdjust="spacing">Pivots (Traditional, Daily, 1)</text>
<text x="8.50" y="603.8" class="t" textLength="182.40" lengthAdjust="spacing">FXS Fed Sentiment Index (close)</text>
<text x="197.00" y="603.8" class="t" textLength="39.40" lengthAdjust="spacing">102.72</text>
<text x="244.50" y="603.8" class="t" textLength="38.00" lengthAdjust="spacing" style="fill:#9598A1;stroke:#9598A1">100.00</text>
<text x="21.50" y="724" class="t" text-anchor="middle">Feb</text>
<text x="155.50" y="724" class="t" text-anchor="middle">Mar</text>
<text x="296.50" y="724" class="t" text-anchor="middle">Apr</text>
<text x="437.50" y="724" class="t" text-anchor="middle">May</text>
<text x="584.50" y="724" class="t" text-anchor="middle">Jun</text>
<text x="725.50" y="724" class="t" text-anchor="middle">Jul</text>
<text x="879.50" y="724" class="t" text-anchor="middle">Aug</text>
<text x="1020.50" y="724" class="t" text-anchor="middle">Sep</text>
<text x="1168.50" y="724" class="t" text-anchor="middle">Oct</text>
<text x="1322.50" y="724" class="t" text-anchor="middle">Nov</text>
<text x="1456.50" y="724" class="t" text-anchor="middle">Dec</text>
<text x="1543.50" y="724" class="t" text-anchor="middle">18</text>
<text x="1615.00" y="572.9" class="t" textLength="45.60" lengthAdjust="spacing">2400.00</text>
<text x="1615.00" y="521.9" class="t" textLength="45.60" lengthAdjust="spacing">2600.00</text>
<text x="1615.00" y="470.9" class="t" textLength="45.60" lengthAdjust="spacing">2800.00</text>
<text x="1615.00" y="418.9" class="t" textLength="45.60" lengthAdjust="spacing">3000.00</text>
<text x="1615.00" y="367.9" class="t" textLength="45.60" lengthAdjust="spacing">3200.00</text>
<text x="1615.00" y="315.9" class="t" textLength="45.60" lengthAdjust="spacing">3400.00</text>
<text x="1615.00" y="264.9" class="t" textLength="45.60" lengthAdjust="spacing">3600.00</text>
<text x="1615.00" y="161.9" class="t" textLength="45.60" lengthAdjust="spacing">4000.00</text>
<text x="1615.00" y="110.9" class="t" textLength="45.60" lengthAdjust="spacing">4200.00</text>
<text x="1615.00" y="7.9" class="t" textLength="45.60" lengthAdjust="spacing">4600.00</text>
<text x="1615.90" y="605.6" class="t" textLength="37.70" lengthAdjust="spacing">160.00</text>
<text x="1615.90" y="654.0" class="t" textLength="37.70" lengthAdjust="spacing">120.00</text>
<text x="1615.10" y="702.4" class="t" textLength="31.10" lengthAdjust="spacing">80.00</text>
<path d="M1607,43 H1665 Q1667,43 1667,45 V60 Q1667,62 1665,62 H1607 Z" fill="#000"/>
<text x="1616.00" y="56.9" class="t" textLength="45.90" lengthAdjust="spacing" style="fill:#fff;stroke:#fff">4381.67</text>
<path d="M1607,61 H1665 Q1667,61 1667,63 V78 Q1667,80 1665,80 H1607 Z" fill="#089981"/>
<text x="1616.00" y="74.9" class="t" textLength="45.90" lengthAdjust="spacing" style="fill:#fff;stroke:#fff">4341.48</text>
<path d="M1607,114 H1665 Q1667,114 1667,116 V131 Q1667,133 1665,133 H1607 Z" fill="#FF6D00"/>
<text x="1616.00" y="127.9" class="t" textLength="45.90" lengthAdjust="spacing" style="fill:#fff;stroke:#fff">4134.32</text>
<path d="M1607,177 H1665 Q1667,177 1667,179 V194 Q1667,196 1665,196 H1607 Z" fill="#000"/>
<text x="1616.00" y="190.9" class="t" textLength="45.90" lengthAdjust="spacing" style="fill:#fff;stroke:#fff">3886.62</text>
<path d="M1607,195 H1665 Q1667,195 1667,197 V212 Q1667,214 1665,214 H1607 Z" fill="#2196F3"/>
<text x="1616.00" y="208.9" class="t" textLength="45.90" lengthAdjust="spacing" style="fill:#fff;stroke:#fff">3850.13</text>
<path d="M1607,280 H1665 Q1667,280 1667,282 V297 Q1667,299 1665,299 H1607 Z" fill="#000"/>
<text x="1616.00" y="293.9" class="t" textLength="45.90" lengthAdjust="spacing" style="fill:#fff;stroke:#fff">3500.14</text>
<path d="M1607,262 H1665 Q1667,262 1667,264 V279 Q1667,281 1665,281 H1607 Z" fill="#26C6DA"/>
<text x="1616.00" y="275.9" class="t" textLength="45.20" lengthAdjust="spacing" style="fill:#000;stroke:#000">3556.94</text>
<path d="M1607,661 H1657 Q1659,661 1659,663 V678 Q1659,680 1657,680 H1607 Z" fill="#000"/>
<text x="1616.30" y="674.9" class="t" textLength="38.60" lengthAdjust="spacing" style="fill:#fff;stroke:#fff">102.72</text>
<path d="M1607,679 H1657 Q1659,679 1659,681 V696 Q1659,698 1657,698 H1607 Z" fill="#A9A9A9"/>
<text x="1616.30" y="692.9" class="t" textLength="38.60" lengthAdjust="spacing" style="fill:#000;stroke:#000">100.00</text>
<g fill="#F0F3FA"><rect x="0" y="0" width="1670" height="2"/><rect x="0" y="0" width="2" height="735"/><rect x="1668" y="0" width="2" height="735"/><rect x="0" y="733" width="1670" height="2"/></g>
</svg></body></html>
